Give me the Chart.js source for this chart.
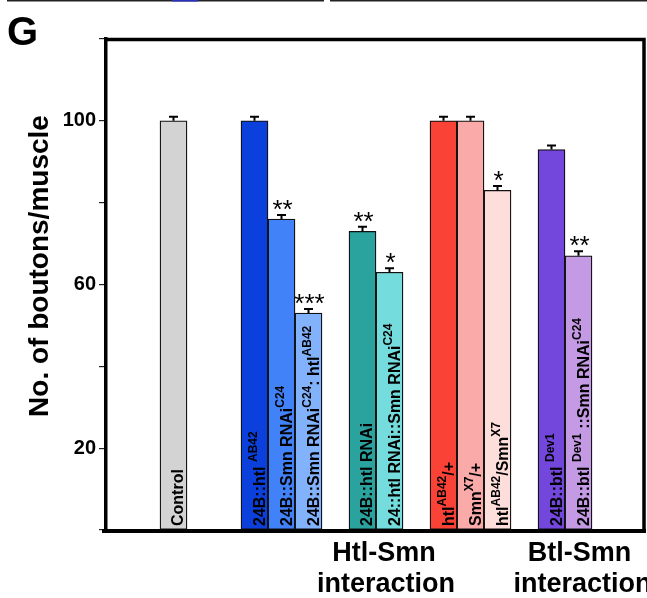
<!DOCTYPE html>
<html><head><meta charset="utf-8">
<script src="https://cdn.jsdelivr.net/npm/chart.js@4/dist/chart.umd.min.js"></script>
<style>html,body{margin:0;padding:0;background:#fff;}canvas{display:block}</style>
</head><body>
<canvas id="c" width="647" height="598"></canvas>
<script>
// ---- data ----
const categories = ['', '', 'Control', '', '',
  '24B::htl ^{AB42}', '24B::Smn RNAi^{C24}', '24B::Smn RNAi^{C24}: htl^{AB42}', '',
  '24B::htl RNAi', '24::htl RNAi::Smn RNAi^{C24}', '',
  'htl^{AB42}/+', 'Smn^{X7}/+', 'htl^{AB42}/Smn^{X7}', '',
  '24B::btl ^{Dev1}', '24B::btl ^{Dev1} ::Smn RNAi^{C24}', '', ''];
const values = [null, null, 100, null, null, 100, 76, 53, null, 73, 63, null, 100, 100, 83, null, 93, 67, null, null];
const errors = [null, null, 1, null, null, 1, 1, 1, null, 1.1, 1, null, 1, 1, 1.1, null, 1, 1.1, null, null];
const stars  = ['', '', '', '', '', '', '**', '***', '', '**', '*', '', '', '', '*', '', '', '**', '', ''];
const colors = ['#fff', '#fff', '#d3d3d3', '#fff', '#fff',
  '#0c40dc', '#4282f8', '#82b2fb', '#fff',
  '#2aa39f', '#74dcdc', '#fff',
  '#fb4236', '#faaaa8', '#fddeda', '#fff',
  '#7346dc', '#c59ae5', '#fff', '#fff'];
const yTickLabels = [20, 60, 100];
const yTitle = 'No. of boutons/muscle';
const groupTitles = [['Htl-Smn', 'interaction'], ['Btl-Smn', 'interaction']];
const panelLetter = 'G';

const FONT = '"Liberation Sans", Arial, sans-serif';

function parseRich(str) {
  const parts = [];
  const re = /\^\{([^}]*)\}/g;
  let last = 0, m;
  while ((m = re.exec(str)) !== null) {
    if (m.index > last) parts.push({t: str.slice(last, m.index), sup: false});
    parts.push({t: m[1], sup: true});
    last = re.lastIndex;
  }
  if (last < str.length) parts.push({t: str.slice(last), sup: false});
  return parts;
}

const decor = {
  id: 'decor',
  afterDatasetsDraw(chart) {
    const ctx = chart.ctx;
    const xs = chart.scales.x, ys = chart.scales.y;
    ctx.save();
    values.forEach((v, i) => {
      if (v == null) return;
      const cx = xs.getPixelForValue(i);
      const yTop = ys.getPixelForValue(v);
      const yErr = ys.getPixelForValue(v + errors[i]);
      ctx.strokeStyle = '#000';
      ctx.lineWidth = 2;
      ctx.beginPath();
      ctx.moveTo(cx, yTop); ctx.lineTo(cx, yErr);
      ctx.moveTo(cx - 4.5, yErr); ctx.lineTo(cx + 4.5, yErr);
      ctx.stroke();
      if (stars[i]) {
        ctx.font = 'normal 26px ' + FONT;
        ctx.fillStyle = '#000';
        ctx.textAlign = 'center';
        ctx.textBaseline = 'alphabetic';
        const mt = ctx.measureText(stars[i]);
        const desc = mt.actualBoundingBoxDescent;
        ctx.fillText(stars[i], cx + 1, yErr - 5 - desc);
      }
      const parts = parseRich(categories[i]);
      const hasSup = parts.some(p => p.sup);
      ctx.save();
      ctx.translate(cx + (hasSup ? 10.5 : 9.5), ys.getPixelForValue(0) - 4);
      ctx.rotate(-Math.PI / 2);
      ctx.textAlign = 'left';
      ctx.textBaseline = 'alphabetic';
      ctx.fillStyle = '#000';
      let px = 0;
      parts.forEach(p => {
        ctx.font = (p.sup ? 'bold 12px ' : 'bold 16px ') + FONT;
        ctx.fillText(p.t, px, p.sup ? -8.5 : 0);
        px += ctx.measureText(p.t).width;
      });
      ctx.restore();
    });
    ctx.restore();
  },
  afterDraw(chart) {
    const ctx = chart.ctx;
    const a = chart.chartArea;
    const xs = chart.scales.x;
    ctx.save();
    ctx.strokeStyle = '#000';
    ctx.lineCap = 'butt';
    ctx.lineWidth = 3.5;
    ctx.beginPath();
    ctx.moveTo(a.left - 1.5, a.top + 0.5);
    ctx.lineTo(a.right - 2, a.top + 0.5);
    ctx.lineTo(a.right - 2, a.bottom);
    ctx.stroke();
    ctx.lineWidth = 4;
    ctx.beginPath();
    ctx.moveTo(a.left - 4, a.bottom + 1);
    ctx.lineTo(a.right, a.bottom + 1);
    ctx.stroke();
    ctx.fillStyle = '#222';
    ctx.fillRect(7, 0, 317, 1.5);
    ctx.fillRect(330, 0, 317, 1.5);
    ctx.fillStyle = '#2a30c0';
    ctx.fillRect(172, 0, 26, 1.5);
    ctx.fillStyle = '#000';
    ctx.font = 'bold 40px ' + FONT;
    ctx.textAlign = 'left';
    ctx.textBaseline = 'alphabetic';
    ctx.fillText(panelLetter, 7, 45);
    ctx.save();
    ctx.translate(40, 266);
    ctx.rotate(-Math.PI / 2);
    ctx.font = 'bold 28px ' + FONT;
    ctx.textAlign = 'center';
    ctx.textBaseline = 'middle';
    ctx.fillText(yTitle, 0, 0);
    ctx.restore();
    ctx.font = 'bold 27px ' + FONT;
    ctx.textAlign = 'center';
    ctx.textBaseline = 'alphabetic';
    const g1 = (xs.getPixelForValue(9) + xs.getPixelForValue(10)) / 2 + 8;
    const g2 = xs.getPixelForValue(17) + 1;
    ctx.fillText(groupTitles[0][0], g1, a.bottom + 31);
    ctx.fillText(groupTitles[0][1], g1 + 2, a.bottom + 62);
    ctx.fillText(groupTitles[1][0], g2, a.bottom + 31);
    ctx.fillText(groupTitles[1][1], g2 + 3, a.bottom + 62);
    ctx.restore();
  }
};

new Chart(document.getElementById('c'), {
  type: 'bar',
  data: {
    labels: categories,
    datasets: [{
      data: values,
      backgroundColor: colors,
      borderColor: '#111',
      borderWidth: 1.3,
      borderSkipped: false,
      barPercentage: 1,
      categoryPercentage: 1
    }]
  },
  options: {
    responsive: false,
    animation: false,
    devicePixelRatio: 1,
    layout: { padding: { top: 39, bottom: 68, right: 1, left: 0 } },
    plugins: { legend: { display: false }, tooltip: { enabled: false }, title: { display: false } },
    scales: {
      x: { type: 'category', display: false, offset: true },
      y: {
        min: 0, max: 120,
        afterFit(scale) { scale.width = 106; },
        border: { display: true, color: '#000', width: 3.5 },
        grid: { display: true, drawOnChartArea: false, drawTicks: true, tickLength: 7, color: '#222', lineWidth: 1.2 },
        ticks: {
          stepSize: 20,
          color: '#000',
          padding: 3,
          font: { family: FONT, size: 20, weight: 'bold' },
          callback: (v) => yTickLabels.includes(v) ? String(v) : ''
        }
      }
    }
  },
  plugins: [decor]
});
</script>
</body></html>
